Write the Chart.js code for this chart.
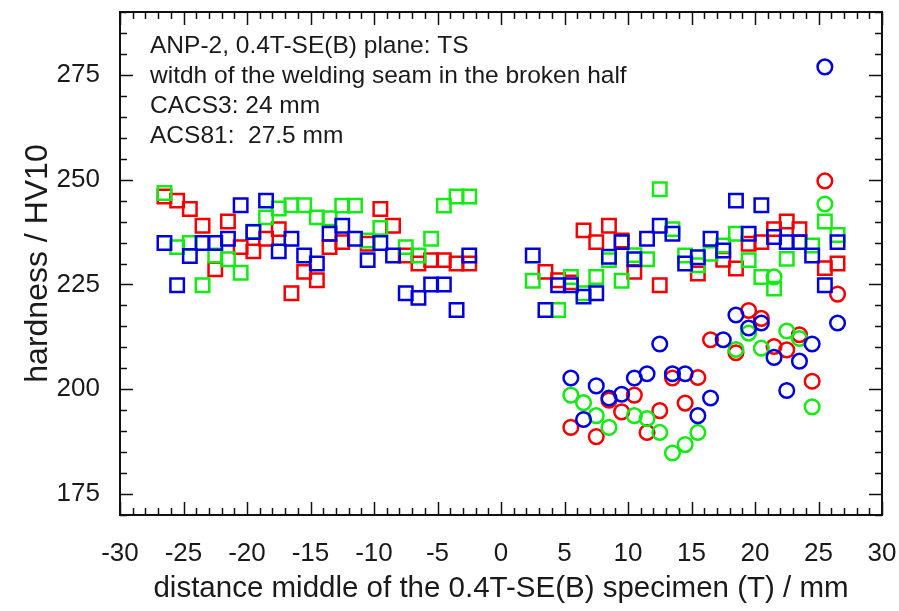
<!DOCTYPE html>
<html>
<head>
<meta charset="utf-8">
<script src="https://cdn.jsdelivr.net/npm/chart.js@4.4.0/dist/chart.umd.min.js"></script>
<style>
  html, body { margin: 0; padding: 0; background: #fff; }
  canvas { display: block; }
</style>
</head>
<body>
<canvas id="hardness" width="899" height="611"></canvas>
<script>
// measuring positions (mm)
const posLeft = [-26.5, -25.5, -24.5, -23.5, -22.5, -21.5, -20.5, -19.5, -18.5, -17.5, -16.5, -15.5, -14.5,
                 -13.5, -12.5, -11.5, -10.5, -9.5, -8.5, -7.5, -6.5, -5.5, -4.5, -3.5, -2.5];
const posRight = [2.5, 3.5, 4.5, 5.5, 6.5, 7.5, 8.5, 9.5, 10.5, 11.5, 12.5, 13.5, 14.5,
                  15.5, 16.5, 17.5, 18.5, 19.5, 20.5, 21.5, 22.5, 23.5, 24.5, 25.5, 26.5];
const posSeam = [5.5, 6.5, 7.5, 8.5, 9.5, 10.5, 11.5, 12.5, 13.5, 14.5, 15.5,
                 16.5, 17.5, 18.5, 19.5, 20.5, 21.5, 22.5, 23.5, 24.5, 25.5, 26.5];

// hardness HV10, squares
const redLeft = [246, 245, 243, 239, 228.6, 240, 233.9, 232.9, 235.9, 238.2, 222.9, 228, 226,
                 233.9, 235.1, null, 234.7, 243, 239, 231.9, 230, 230.8, 230.8, 230, 230];
const greenLeft = [246.8, 233.9, 234.9, 224.8, 231.9, 231, 227.8, 237.6, 241, 243.1, 243.9, 243.9, 241,
                   240.8, 243.8, 243.8, 235.5, 238.5, null, 233.9, 231.9, 235.9, 243.8, 246, 246];
const blueLeft = [234.9, 224.8, 231.8, 234.9, 234.9, 235.9, 243.9, 237.5, 245, 232.9, 235.9, 231.9, 230,
                  237.1, 239, 235.9, 230.8, 234.9, 231.9, 222.9, 221.8, 225, 225, 218.9, 231.9];
const redRight = [null, 228, 226, 225.5, 237.9, 235.1, 239, 235.5, 228, null, 224.8, null, null,
                  227.6, null, 230.9, 228.8, 234.7, 235.1, 238.2, 240, 238.2, null, 228.9, 230];
const greenRight = [225.9, null, 218.9, 226.8, 222.9, 226.8, 230.8, 225.9, 232, 231, 247.7, 238.2, 231.9,
                    229.6, 232.3, 234.3, 237.1, 230.8, 226.8, 224, 231.1, null, 234.3, 240, 236.8];
const blueRight = [231.9, 218.9, 224.8, 224.8, 222.1, 222.9, 231.6, 235.1, 231, 235.9, 239, 237.1, 230,
                   231.5, 235.9, 233.1, 245, 237.1, 243.9, 236.3, 235.1, 235.1, 231.9, 224.8, 235.1];

// hardness HV10, circles
const redSeam = [190.9, null, 188.7, 197.4, 194.6, 198.6, 189.7, 194.9, 202.7, 196.7, 202.8,
                 211.8, null, 208.7, 218.8, 216.9, 210.2, 209.4, 213, 201.9, 249.7, 222.7];
const greenSeam = [198.6, 196.8, 193.7, 190.9, null, 193.7, 193, 189.7, 184.8, 186.8, 189.7,
                   null, null, 209.5, 213.4, 209.8, 226.8, 213.9, 212.1, 195.8, 244.2, null];
const blueSeam = [202.7, 192.8, 200.8, 197.9, 198.8, 202.7, 203.7, 210.8, 203.7, 203.7, 193.7,
                  197.9, 211.8, 217.7, 214.6, 215.8, 207.6, 199.7, 206.7, 210.8, 276.9, 215.8];

const xTicks = [-30, -25, -20, -15, -10, -5, 0, 5, 10, 15, 20, 25, 30];
const yTicks = [175, 200, 225, 250, 275];

const notes = [
    "ANP-2, 0.4T-SE(B) plane: TS",
    "witdh of the welding seam in the broken half",
    "CACS3: 24 mm",
    "ACS81:  27.5 mm"
];

const RED = '#f20000', GREEN = '#14ea14', BLUE = '#0000dc';
const FONT = "'Liberation Sans', Arial, sans-serif";

function pairs(xs, ys) {
    return xs.map((x, i) => ({x: x, y: ys[i]})).filter(p => p.y !== null);
}

function squares(col, data) {
    return {data: data, pointStyle: 'rect', pointRadius: 9.5, pointBorderWidth: 2.5,
            borderColor: col, pointBorderColor: col, backgroundColor: 'transparent',
            pointBackgroundColor: 'transparent', showLine: false};
}
function circles(col, data) {
    return {data: data, pointStyle: 'circle', pointRadius: 7.3, pointBorderWidth: 2.5,
            borderColor: col, pointBorderColor: col, backgroundColor: 'transparent',
            pointBackgroundColor: 'transparent', showLine: false};
}

// no extra room for label overhang, the plot box is fixed
function fixBox(s, w, h) {
    if (w) s.width = w;
    if (h) s.height = h;
    s.paddingTop = 0; s.paddingBottom = 0; s.paddingLeft = 0; s.paddingRight = 0;
}

// frame, inward tick marks and the text block
const framePlugin = {
    id: 'frame',
    afterDraw(chart) {
        const ctx = chart.ctx;
        const a = chart.chartArea;
        const xs = chart.scales.x, ys = chart.scales.y;
        ctx.save();
        ctx.strokeStyle = '#111';
        ctx.lineWidth = 2;
        ctx.strokeRect(a.left, a.top, a.right - a.left, a.bottom - a.top);
        ctx.lineWidth = 1.5;
        ctx.beginPath();
        for (let v = -30; v <= 30; v++) {
            const px = Math.round(xs.getPixelForValue(v)) + 0.5;
            const len = v % 5 === 0 ? 13 : 7;
            ctx.moveTo(px, a.bottom); ctx.lineTo(px, a.bottom - len);
            ctx.moveTo(px, a.top); ctx.lineTo(px, a.top + len);
        }
        for (let v = 170; v <= 290; v += 5) {
            const py = Math.round(ys.getPixelForValue(v)) + 0.5;
            const len = v % 25 === 0 ? 13 : 7;
            ctx.moveTo(a.left, py); ctx.lineTo(a.left + len, py);
            ctx.moveTo(a.right, py); ctx.lineTo(a.right - len, py);
        }
        ctx.stroke();

        ctx.fillStyle = '#1a1a1a';
        ctx.font = '24.5px ' + FONT;
        ctx.textBaseline = 'middle';
        notes.forEach((t, i) => ctx.fillText(t, a.left + 30, 46 + i * 30));
        ctx.restore();
    }
};

new Chart(document.getElementById('hardness'), {
    type: 'scatter',
    data: {
        datasets: [
            squares(BLUE, pairs(posLeft, blueLeft)),
            squares(BLUE, pairs(posRight, blueRight)),
            circles(BLUE, pairs(posSeam, blueSeam)),
            squares(GREEN, pairs(posLeft, greenLeft)),
            squares(GREEN, pairs(posRight, greenRight)),
            circles(GREEN, pairs(posSeam, greenSeam)),
            squares(RED, pairs(posLeft, redLeft)),
            squares(RED, pairs(posRight, redRight)),
            circles(RED, pairs(posSeam, redSeam))
        ]
    },
    options: {
        responsive: false,
        animation: false,
        layout: {padding: {top: 8, right: 17, left: 0, bottom: 0}},
        plugins: {legend: {display: false}, tooltip: {enabled: false}},
        scales: {
            x: {
                type: 'linear', min: -30, max: 30,
                afterBuildTicks: s => { s.ticks = xTicks.map(v => ({value: v})); },
                afterFit: s => fixBox(s, 0, 96),
                grid: {display: false, drawTicks: false},
                border: {display: false},
                ticks: {font: {size: 26, family: FONT}, color: '#1a1a1a', padding: 23, maxRotation: 0, autoSkip: false},
                title: {display: true, text: 'distance middle of the 0.4T-SE(B) specimen (T) / mm',
                        font: {size: 29.5, family: FONT}, color: '#1a1a1a', padding: {top: 0, bottom: 4}}
            },
            y: {
                type: 'linear', min: 170, max: 290,
                afterBuildTicks: s => { s.ticks = yTicks.map(v => ({value: v})); },
                afterFit: s => fixBox(s, 120, 0),
                grid: {display: false, drawTicks: false},
                border: {display: false},
                ticks: {font: {size: 26, family: FONT}, color: '#1a1a1a', padding: 20, autoSkip: false},
                title: {display: true, text: 'hardness / HV10',
                        font: {size: 32, family: FONT}, color: '#1a1a1a', padding: {top: 19, bottom: 0}}
            }
        }
    },
    plugins: [framePlugin]
});
</script>
</body>
</html>
